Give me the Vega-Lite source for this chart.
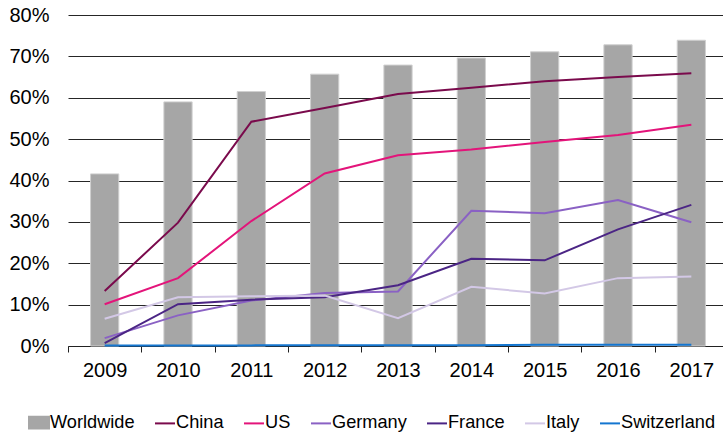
{
  "$schema": "https://vega.github.io/schema/vega-lite/v6.json",
  "width": 655,
  "height": 331,
  "autosize": {"type": "none"},
  "padding": {"left": 68, "top": 15, "right": 0, "bottom": 89},
  "background": "white",
  "config": {
    "font": "Liberation Sans",
    "view": {"stroke": null}
  },
  "data": {
    "values": [
      {"year": "2009", "series": "Worldwide", "value": 41.6},
      {"year": "2010", "series": "Worldwide", "value": 59.0},
      {"year": "2011", "series": "Worldwide", "value": 61.5},
      {"year": "2012", "series": "Worldwide", "value": 65.7},
      {"year": "2013", "series": "Worldwide", "value": 67.9},
      {"year": "2014", "series": "Worldwide", "value": 69.6},
      {"year": "2015", "series": "Worldwide", "value": 71.1},
      {"year": "2016", "series": "Worldwide", "value": 72.8},
      {"year": "2017", "series": "Worldwide", "value": 73.9},
      {"year": "2009", "series": "China", "value": 13.3},
      {"year": "2010", "series": "China", "value": 29.8},
      {"year": "2011", "series": "China", "value": 54.2},
      {"year": "2012", "series": "China", "value": 57.5},
      {"year": "2013", "series": "China", "value": 60.9},
      {"year": "2014", "series": "China", "value": 62.4},
      {"year": "2015", "series": "China", "value": 64.0},
      {"year": "2016", "series": "China", "value": 65.0},
      {"year": "2017", "series": "China", "value": 65.9},
      {"year": "2009", "series": "US", "value": 10.1},
      {"year": "2010", "series": "US", "value": 16.4},
      {"year": "2011", "series": "US", "value": 30.2},
      {"year": "2012", "series": "US", "value": 41.7},
      {"year": "2013", "series": "US", "value": 46.1},
      {"year": "2014", "series": "US", "value": 47.5},
      {"year": "2015", "series": "US", "value": 49.3},
      {"year": "2016", "series": "US", "value": 51.0},
      {"year": "2017", "series": "US", "value": 53.5},
      {"year": "2009", "series": "Germany", "value": 1.9},
      {"year": "2010", "series": "Germany", "value": 7.4},
      {"year": "2011", "series": "Germany", "value": 11.0},
      {"year": "2012", "series": "Germany", "value": 12.8},
      {"year": "2013", "series": "Germany", "value": 13.2},
      {"year": "2014", "series": "Germany", "value": 32.7},
      {"year": "2015", "series": "Germany", "value": 32.1},
      {"year": "2016", "series": "Germany", "value": 35.3},
      {"year": "2017", "series": "Germany", "value": 29.9},
      {"year": "2009", "series": "France", "value": 0.7},
      {"year": "2010", "series": "France", "value": 10.1},
      {"year": "2011", "series": "France", "value": 11.2},
      {"year": "2012", "series": "France", "value": 11.8},
      {"year": "2013", "series": "France", "value": 14.7},
      {"year": "2014", "series": "France", "value": 21.1},
      {"year": "2015", "series": "France", "value": 20.7},
      {"year": "2016", "series": "France", "value": 28.2},
      {"year": "2017", "series": "France", "value": 34.1},
      {"year": "2009", "series": "Italy", "value": 6.6},
      {"year": "2010", "series": "Italy", "value": 11.8},
      {"year": "2011", "series": "Italy", "value": 12.0},
      {"year": "2012", "series": "Italy", "value": 12.2},
      {"year": "2013", "series": "Italy", "value": 6.7},
      {"year": "2014", "series": "Italy", "value": 14.3},
      {"year": "2015", "series": "Italy", "value": 12.7},
      {"year": "2016", "series": "Italy", "value": 16.4},
      {"year": "2017", "series": "Italy", "value": 16.8},
      {"year": "2009", "series": "Switzerland", "value": 0.1},
      {"year": "2010", "series": "Switzerland", "value": 0.1},
      {"year": "2011", "series": "Switzerland", "value": 0.15},
      {"year": "2012", "series": "Switzerland", "value": 0.2},
      {"year": "2013", "series": "Switzerland", "value": 0.2},
      {"year": "2014", "series": "Switzerland", "value": 0.2},
      {"year": "2015", "series": "Switzerland", "value": 0.3},
      {"year": "2016", "series": "Switzerland", "value": 0.3},
      {"year": "2017", "series": "Switzerland", "value": 0.3}
    ]
  },
  "encoding": {
    "x": {
      "field": "year",
      "type": "ordinal",
      "scale": {"type": "band", "range": [0, 660], "paddingInner": 0, "paddingOuter": 0},
      "axis": {
        "title": null,
        "labelAngle": 0,
        "tickBand": "extent",
        "grid": false,
        "domainColor": "#222222",
        "domainWidth": 1,
        "tickColor": "#222222",
        "tickSize": 6,
        "labelPadding": 8,
        "labelFont": "Liberation Sans",
        "labelFontSize": 20,
        "labelColor": "#000000"
      }
    },
    "y": {
      "field": "value",
      "type": "quantitative",
      "scale": {"domain": [0, 80], "nice": false},
      "axis": {
        "title": null,
        "values": [0, 10, 20, 30, 40, 50, 60, 70, 80],
        "labelExpr": "datum.value + '%'",
        "domain": false,
        "ticks": false,
        "tickSize": 0,
        "labelPadding": 19,
        "grid": true,
        "gridColor": "#262626",
        "gridWidth": 1,
        "labelFont": "Liberation Sans",
        "labelFontSize": 20,
        "labelColor": "#000000"
      }
    },
    "color": {
      "field": "series",
      "type": "nominal",
      "scale": {
        "domain": ["Worldwide", "China", "US", "Germany", "France", "Italy", "Switzerland"],
        "range": ["#a6a6a6", "#7a0a4c", "#e3147a", "#8a61c4", "#4b2585", "#d3c8e6", "#1476d0"]
      },
      "legend": {
        "orient": "none",
        "legendX": -40,
        "legendY": 396.5,
        "direction": "horizontal",
        "columns": 7,
        "title": null,
        "padding": 0,
        "symbolSize": 400,
        "labelFont": "Liberation Sans",
        "labelFontSize": 18.2,
        "labelColor": "#000000",
        "labelOffset": 0,
        "columnPadding": 16,
        "labelLimit": 300,
        "encode": {
          "symbols": {
            "update": {
              "shape": {"signal": "datum.value === 'Worldwide' ? 'M-1,-0.58H1V0.58H-1Z' : 'M-1,0H1'"},
              "fill": {"signal": "datum.value === 'Worldwide' ? scale('color', datum.value) : 'transparent'"},
              "stroke": {"signal": "datum.value === 'Worldwide' ? 'transparent' : scale('color', datum.value)"},
              "strokeWidth": {"value": 2},
              "opacity": {"value": 1},
              "fillOpacity": {"value": 1},
              "strokeOpacity": {"value": 1}
            }
          }
        }
      }
    }
  },
  "layer": [
    {
      "transform": [{"filter": "datum.series === 'Worldwide'"}],
      "mark": {"type": "bar", "width": {"band": 0.385}, "stroke": "#d0d0d0", "strokeWidth": 1}
    },
    {
      "transform": [{"filter": "datum.series !== 'Worldwide'"}],
      "mark": {"type": "line", "strokeWidth": 2}
    }
  ]
}
